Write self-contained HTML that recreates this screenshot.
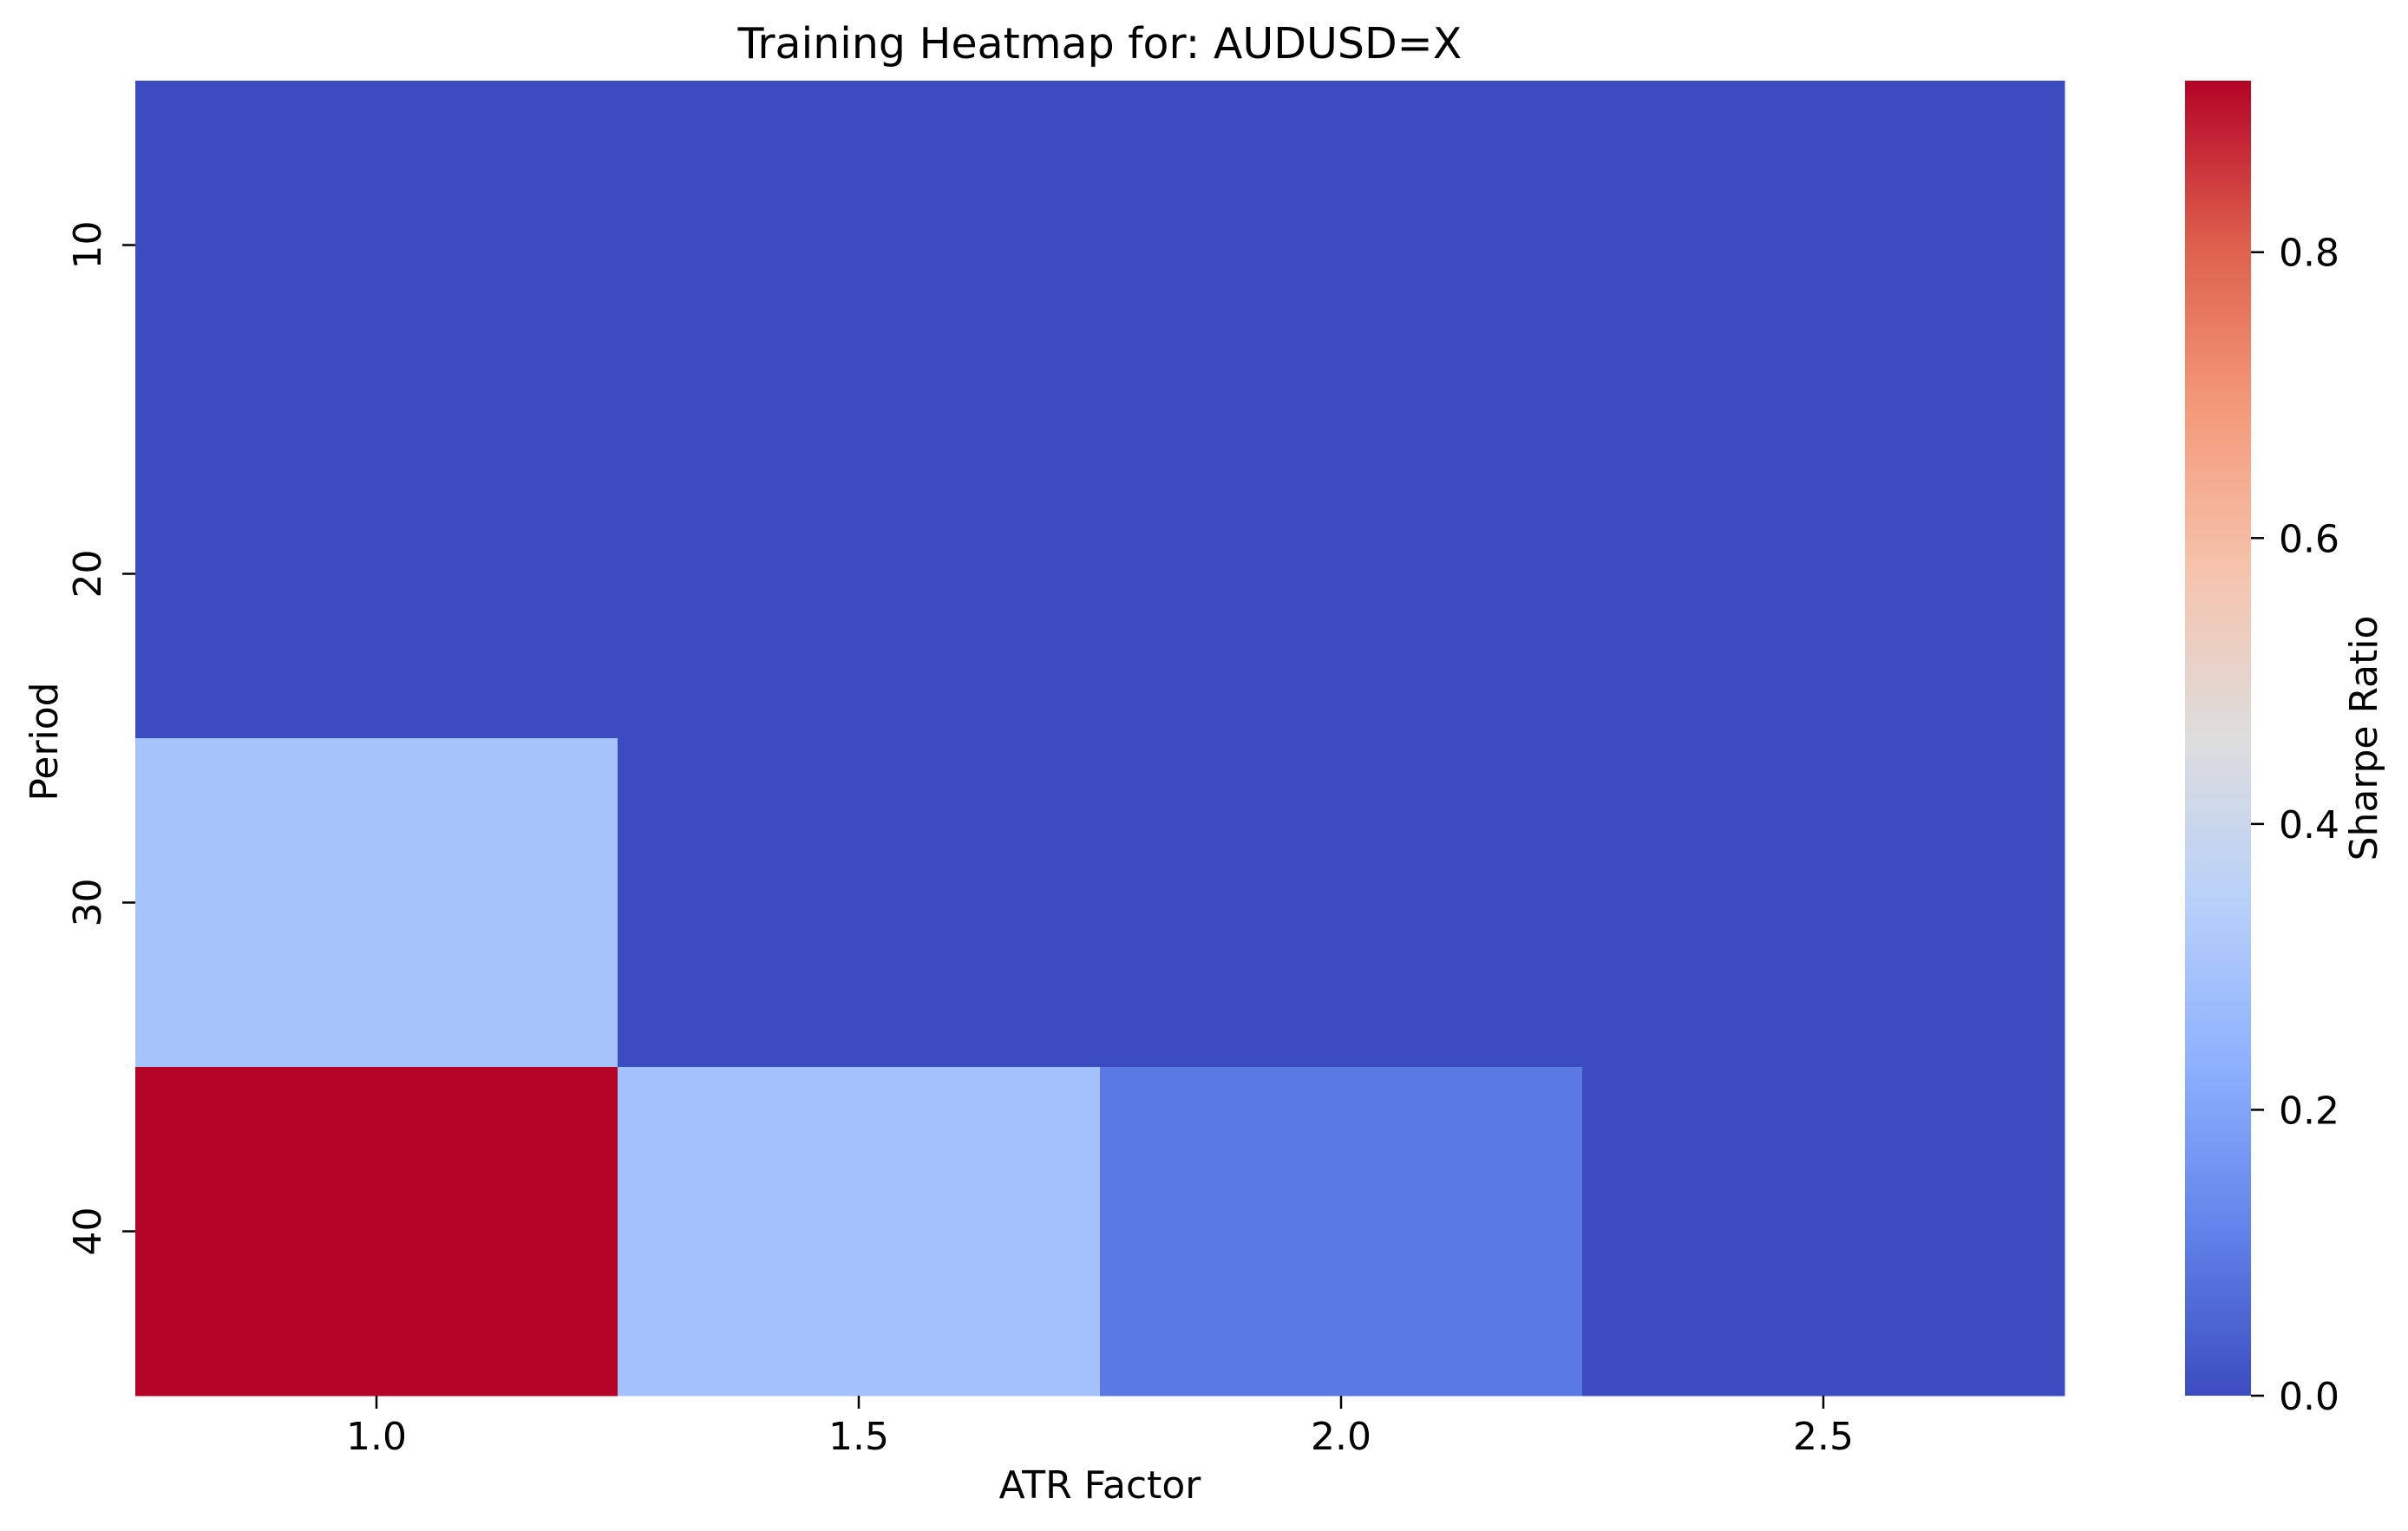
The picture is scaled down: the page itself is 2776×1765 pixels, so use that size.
<!DOCTYPE html>
<html><head><meta charset="utf-8"><style>
html,body{margin:0;padding:0;background:#fff;}
svg{display:block;font-family:"DejaVu Sans","Liberation Sans",sans-serif;}
</style></head><body>
<svg id="chart" width="2776" height="1765" viewBox="0 0 2776 1765" xmlns="http://www.w3.org/2000/svg">
<defs><linearGradient id="cbg" x1="0" y1="1" x2="0" y2="0"></linearGradient></defs>
<rect width="2776" height="1765" fill="#fff"/>
<text x="1268" y="67" font-size="49" text-anchor="middle">Training Heatmap for: AUDUSD=X</text>
<g id="cells"></g>
<g id="axes"></g>
<text x="1268" y="1727" font-size="44" text-anchor="middle">ATR Factor</text>
<text transform="translate(66,855) rotate(-90)" font-size="44" text-anchor="middle">Period</text>
<rect x="2519" y="93" width="76" height="1516" fill="url(#cbg)"/>
<g id="cbticks"></g>
<text transform="translate(2740,851) rotate(-90)" font-size="44" text-anchor="middle">Sharpe Ratio</text>
</svg>
<script>
const xCategories = ["1.0","1.5","2.0","2.5"];
const yCategories = ["10","20","30","40"];
const row10 = [0,0,0,0];
const row20 = [0,0,0,0];
const row30 = [0.30,0,0,0];
const row40 = [0.92,0.29,0.095,0];
const cbTicks = [0,0.2,0.4,0.6,0.8];
const cbTickLabels = ["0.0","0.2","0.4","0.6","0.8"];
const vmin = 0, vmax = 0.92;

const NS="http://www.w3.org/2000/svg";
const L=156,R=2380,T=93,B=1609,CBT=93,CBB=1609,CBX=2595;
const rows=[row10,row20,row30,row40];
const cw=(R-L)/xCategories.length, ch=(B-T)/yCategories.length;
function xPos(i){return L+i*cw;}
function yPos(j){return T+j*ch;}
function cbY(v){return CBB-(v-vmin)/(vmax-vmin)*(CBB-CBT);}
const cmap=[[0,59,76,192],[0.125,98,130,234],[0.25,141,176,254],[0.375,184,208,249],[0.5,221,221,221],[0.625,245,196,173],[0.75,244,154,123],[0.875,222,96,77],[1,180,4,38]];
function color(v){let t=Math.max(0,Math.min(1,(v-vmin)/(vmax-vmin)));
 for(let k=0;k<cmap.length-1;k++){const a=cmap[k],b=cmap[k+1];if(t<=b[0]){const f=(t-a[0])/(b[0]-a[0]);
 return `rgb(${Math.round(a[1]+f*(b[1]-a[1]))},${Math.round(a[2]+f*(b[2]-a[2]))},${Math.round(a[3]+f*(b[3]-a[3]))})`;}}
 return "rgb(180,4,38)";}
function el(tag,attrs,parent){const e=document.createElementNS(NS,tag);for(const k in attrs)e.setAttribute(k,attrs[k]);parent.appendChild(e);return e;}
const cells=document.getElementById('cells');
rows.forEach((row,j)=>row.forEach((v,i)=>{
 const r=el('rect',{x:xPos(i),y:yPos(j),width:cw+0.5,height:ch+0.5,fill:color(v)},cells);
 
 
}));
const axes=document.getElementById('axes');
xCategories.forEach((c,i)=>{const cx=xPos(i)+cw/2;
 el('line',{x1:cx,y1:B,x2:cx,y2:B+15,stroke:'#000','stroke-width':2.5},axes);
 const t=el('text',{x:cx,y:B+62,'font-size':44,'text-anchor':'middle'},axes);t.textContent=c;
 
 
});
yCategories.forEach((c,j)=>{const cy=yPos(j)+ch/2;
 el('line',{x1:L-15,y1:cy,x2:L,y2:cy,stroke:'#000','stroke-width':2.5},axes);
 const t=el('text',{transform:`translate(116,${cy}) rotate(-90)`,'font-size':44,'text-anchor':'middle'},axes);t.textContent=c;
 
 
});
const g=document.getElementById('cbg');
for(let k=0;k<=40;k++){const v=vmin+(vmax-vmin)*k/40;el('stop',{offset:(k/40),'stop-color':color(v)},g);}
const cbt=document.getElementById('cbticks');
cbTicks.forEach((v,k)=>{const y=cbY(v);
 el('line',{x1:CBX,y1:y,x2:CBX+15,y2:y,stroke:'#000','stroke-width':2.5},cbt);
 const t=el('text',{x:CBX+32,y:y+16,'font-size':44},cbt);t.textContent=cbTickLabels[k];
 
 
});
</script>
</body></html>
